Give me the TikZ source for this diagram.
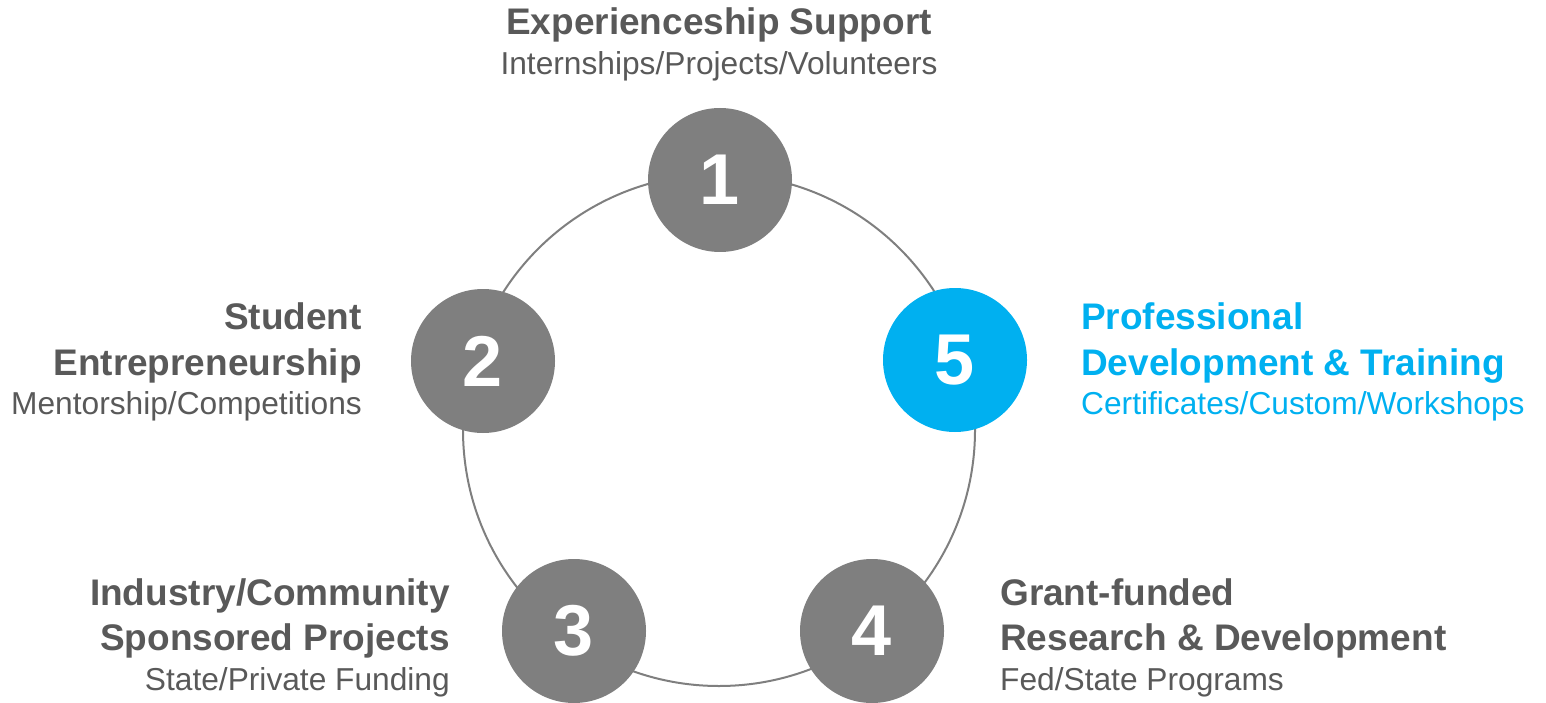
\documentclass[tikz,border=0pt]{standalone}
\usepackage{fontspec}
\setmainfont{Liberation Sans}
\definecolor{txtgray}{HTML}{595959}
\definecolor{circgray}{HTML}{7F7F7F}
\definecolor{hlblue}{HTML}{00B0F0}
\tikzset{
  ring/.style={draw=circgray, line width=2pt},
  numcirc/.style={circle, fill=circgray, minimum size=144pt, inner sep=0pt, text=white,
    font=\fontsize{72}{80}\selectfont\bfseries},
  numblue/.style={numcirc, fill=hlblue},
  ttl/.style={inner sep=0pt, text=txtgray, font=\fontsize{37}{44}\selectfont\bfseries},
  sub/.style={inner sep=0pt, text=txtgray, font=\fontsize{31.7}{38}\selectfont},
  blue/.style={text=hlblue}
}
\begin{document}
\begin{tikzpicture}[x=1pt,y=-1pt]
\useasboundingbox (0,0) rectangle (1546,703);
\draw[ring] (719,430) circle (256pt);
\node[numcirc] (c1) at (720,180) {1};
\node[numcirc] (c2) at (483,361) {2};
\node[numcirc] (c3) at (574,631) {3};
\node[numcirc] (c4) at (872,631) {4};
\node[numblue] (c5) at (955,360) {5};
% top
\node[ttl, anchor=base] (t1a) at (719,35) {Experienceship Support};
\node[sub, anchor=base] (t1b) at (719,75) {Internships/Projects/Volunteers};
% 2
\node[ttl, anchor=base east] (t2a) at (362,329) {Student};
\node[ttl, anchor=base east] (t2b) at (362,375) {Entrepreneurship};
\node[sub, anchor=base east] (t2c) at (362,414) {Mentorship/Competitions};
% 5
\node[ttl, blue, anchor=base west] (t5a) at (1081,329) {Professional};
\node[ttl, blue, anchor=base west] (t5b) at (1081,375) {Development \& Training};
\node[sub, blue, anchor=base west] (t5c) at (1081,414) {Certificates/Custom/Workshops};
% 3
\node[ttl, anchor=base east] (t3a) at (450,605) {Industry/Community};
\node[ttl, anchor=base east] (t3b) at (450,650) {Sponsored Projects};
\node[sub, anchor=base east] (t3c) at (450,690) {State/Private Funding};
% 4
\node[ttl, anchor=base west] (t4a) at (1000,605) {Grant-funded};
\node[ttl, anchor=base west] (t4b) at (1000,650) {Research \& Development};
\node[sub, anchor=base west] (t4c) at (1000,690) {Fed/State Programs};
\end{tikzpicture}
\end{document}
